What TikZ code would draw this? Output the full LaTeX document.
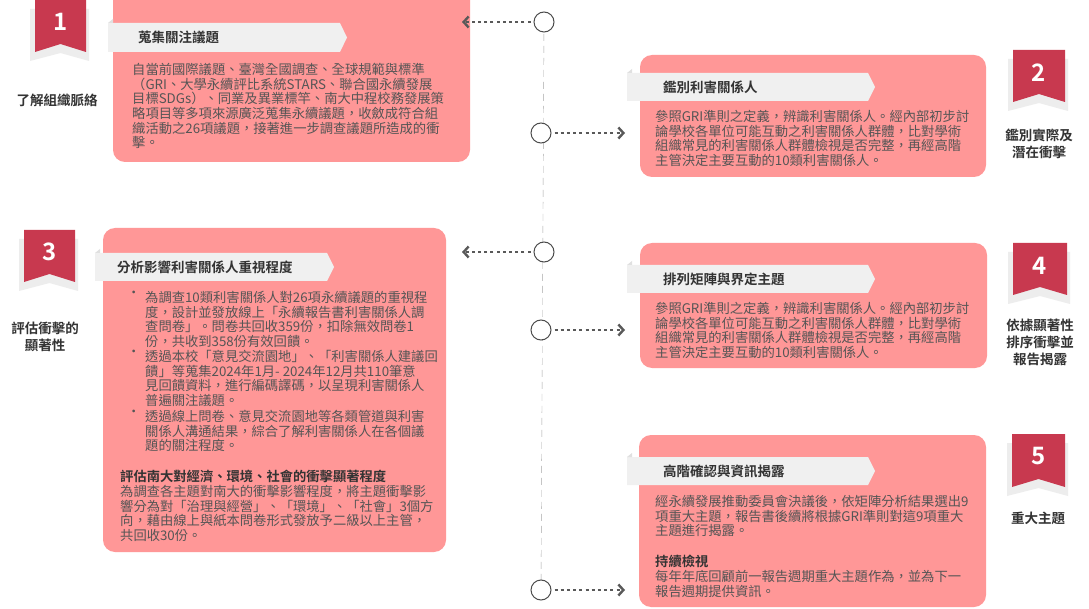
\documentclass[tikz,border=0pt]{standalone}
\usepackage{fontspec}
\setmainfont{Noto Sans CJK TC}[BoldFont={Noto Sans CJK TC Bold}]
\usetikzlibrary{arrows.meta}
\XeTeXlinebreaklocale "zh"
\definecolor{boxred}{HTML}{FF9797}
\definecolor{badgered}{HTML}{C8394F}
\definecolor{txt}{HTML}{555555}
\definecolor{ttl}{HTML}{333333}
\definecolor{ban}{HTML}{F0F0F0}
\tikzset{
 pbox/.style={fill=boxred,rounded corners=12pt},
 body/.style={anchor=north west,inner sep=0pt,align=left,text=txt,font=\fontsize{13.3}{14.7}\selectfont},
 ttext/.style={anchor=west,inner sep=0pt,text=ttl,font=\fontsize{13.5}{15}\selectfont\bfseries},
 lab/.style={align=center,inner sep=0pt,text=ttl,font=\fontsize{13.5}{17}\selectfont\bfseries},
 num/.style={inner sep=0pt,text=white,font=\fontsize{24}{24}\selectfont\bfseries},
 dot/.style={draw=black!65,line width=2.6pt,dash pattern=on 3pt off 3.2pt,-{Straight Barb[length=5pt,width=11pt,line width=2.4pt]}},
 circ/.style={circle,draw=black!70,line width=1pt,fill=white,minimum size=20pt,inner sep=0pt},
}
\newcommand{\banner}[4]{% x0 x1 ytop ybot
 \fill[ban] (#1,#3) -- (#2,#3) -- ({#2+7},{(#3+#4)/2}) -- (#2,#4) -- (#1,#4) -- cycle;
 \fill[black!12] (#1,#3) -- ({#1+5},#3) -- ({#1+5},{#3-4}) -- cycle;}
\newcommand{\badge}[4]{% x0 x1 ytop ybot
 \fill[black!7] ({#1-5},{#3+9}) -- ({#2+3},{#3+9}) -- ({#2+3},{#4+9}) -- ({(#1+#2)/2},{#4+1}) -- ({#1-5},{#4+9}) -- cycle;
 \fill[badgered] (#1,#3) -- (#2,#3) -- (#2,#4) -- ({(#1+#2)/2},{#4-8}) -- (#1,#4) -- cycle;}
\begin{document}
\begin{tikzpicture}[x=1pt,y=-1pt]
\useasboundingbox[fill=white] (0,0) rectangle (1089,609);
% timeline
\draw[black!35,dashed,dash pattern=on 7pt off 5pt] (544,22) -- (541,590);
% boxes
\fill[pbox] (113,-12) rectangle (470,162);
\fill[pbox] (640,55) rectangle (986,177);
\fill[pbox] (103,228) rectangle (446,552);
\fill[pbox] (640,243) rectangle (987,368);
\fill[pbox] (639,435) rectangle (986,607);
\banner{108}{340}{23}{52}
\banner{627}{868}{73}{101}
\banner{95}{327}{253}{281}
\banner{627}{868}{265}{293}
\banner{627}{868}{457}{485}
\node[ttext] (t1) at (138,37) {蒐集關注議題};
\node[ttext] (t2) at (663,87) {鑑別利害關係人};
\node[ttext] (t3) at (117,267) {分析影響利害關係人重視程度};
\node[ttext] (t4) at (663,279) {排列矩陣與界定主題};
\node[ttext] (t5) at (663,471) {高階確認與資訊揭露};
% body texts
\node[body] (b1) at (132,63) {自當前國際議題、臺灣全國調查、全球規範與標準\\（GRI、大學永續評比系統STARS、聯合國永續發展\\目標SDGs）、同業及異業標竿、南大中程校務發展策\\略項目等多項來源廣泛蒐集永續議題，收斂成符合組\\織活動之26項議題，接著進一步調查議題所造成的衝\\擊。};
\node[body] (b2) at (655,110) {參照GRI準則之定義，辨識利害關係人。經內部初步討\\論學校各單位可能互動之利害關係人群體，比對學術\\組織常見的利害關係人群體檢視是否完整，再經高階\\主管決定主要互動的10類利害關係人。};
\node[body] (b4) at (655,302) {參照GRI準則之定義，辨識利害關係人。經內部初步討\\論學校各單位可能互動之利害關係人群體，比對學術\\組織常見的利害關係人群體檢視是否完整，再經高階\\主管決定主要互動的10類利害關係人。};
\node[body] (b5) at (655,495) {經永續發展推動委員會決議後，依矩陣分析結果選出9\\項重大主題，報告書後續將根據GRI準則對這9項重大\\主題進行揭露。};
\node[body] (b5b) at (655,555) {\textbf{\color{ttl}持續檢視}\\每年年底回顧前一報告週期重大主題作為，並為下一\\報告週期提供資訊。};
\node[body] (b3a) at (145,291) {為調查10類利害關係人對26項永續議題的重視程\\度，設計並發放線上「永續報告書利害關係人調\\查問卷」。問卷共回收359份，扣除無效問卷1\\份，共收到358份有效回饋。};
\node[body] (b3b) at (145,350) {透過本校「意見交流園地」、「利害關係人建議回\\饋」等蒐集2024年1月- 2024年12月共110筆意\\見回饋資料，進行編碼譯碼，以呈現利害關係人\\普遍關注議題。};
\node[body] (b3c) at (145,410) {透過線上問卷、意見交流園地等各類管道與利害\\關係人溝通結果，綜合了解利害關係人在各個議\\題的關注程度。};
\node[body,text=txt] (d1) at (127,291) {•};
\node[body,text=txt] (d2) at (127,350) {•};
\node[body,text=txt] (d3) at (127,410) {•};
\node[body] (b3d) at (120,470) {\textbf{\color{ttl}評估南大對經濟、環境、社會的衝擊顯著程度}\\為調查各主題對南大的衝擊影響程度，將主題衝擊影\\響分為對「治理與經營」、「環境」、「社會」3個方\\向，藉由線上與紙本問卷形式發放予二級以上主管，\\共回收30份。};
% badges
\badge{35}{86}{0}{52}
\node[num] (n1) at (60.5,22) {1};
\node[lab] (l1) at (57,100) {了解組織脈絡};
\badge{1013}{1065}{50}{102}
\node[num] (n2) at (1039,73) {2};
\node[lab] (l2) at (1039,144) {鑑別實際及\\潛在衝擊};
\badge{24}{75}{230}{282}
\node[num] (n3) at (49.5,252) {3};
\node[lab] (l3) at (45,337) {評估衝擊的\\顯著性};
\badge{1013}{1067}{243}{295}
\node[num] (n4) at (1040,266) {4};
\node[lab] (l4) at (1040,342) {依據顯著性\\排序衝擊並\\報告揭露};
\badge{1012}{1065}{434}{487}
\node[num] (n5) at (1038.5,456) {5};
\node[lab] (l5) at (1038,518) {重大主題};
% circles and arrows
\node[circ] (c1) at (544,22) {};
\node[circ] (c2) at (541,133) {};
\node[circ] (c3) at (544,252) {};
\node[circ] (c4) at (541,330) {};
\node[circ] (c5) at (541,590) {};
\coordinate (e1) at (462,22);
\coordinate (e2) at (625,133);
\coordinate (e3) at (462,252);
\coordinate (e4) at (625,330);
\coordinate (e5) at (625,590);
\draw[dot] ([xshift=-3pt]c1.west) -- (e1);
\draw[dot] ([xshift=3pt]c2.east) -- (e2);
\draw[dot] ([xshift=-3pt]c3.west) -- (e3);
\draw[dot] ([xshift=3pt]c4.east) -- (e4);
\draw[dot] ([xshift=3pt]c5.east) -- (e5);
\end{tikzpicture}
\end{document}
